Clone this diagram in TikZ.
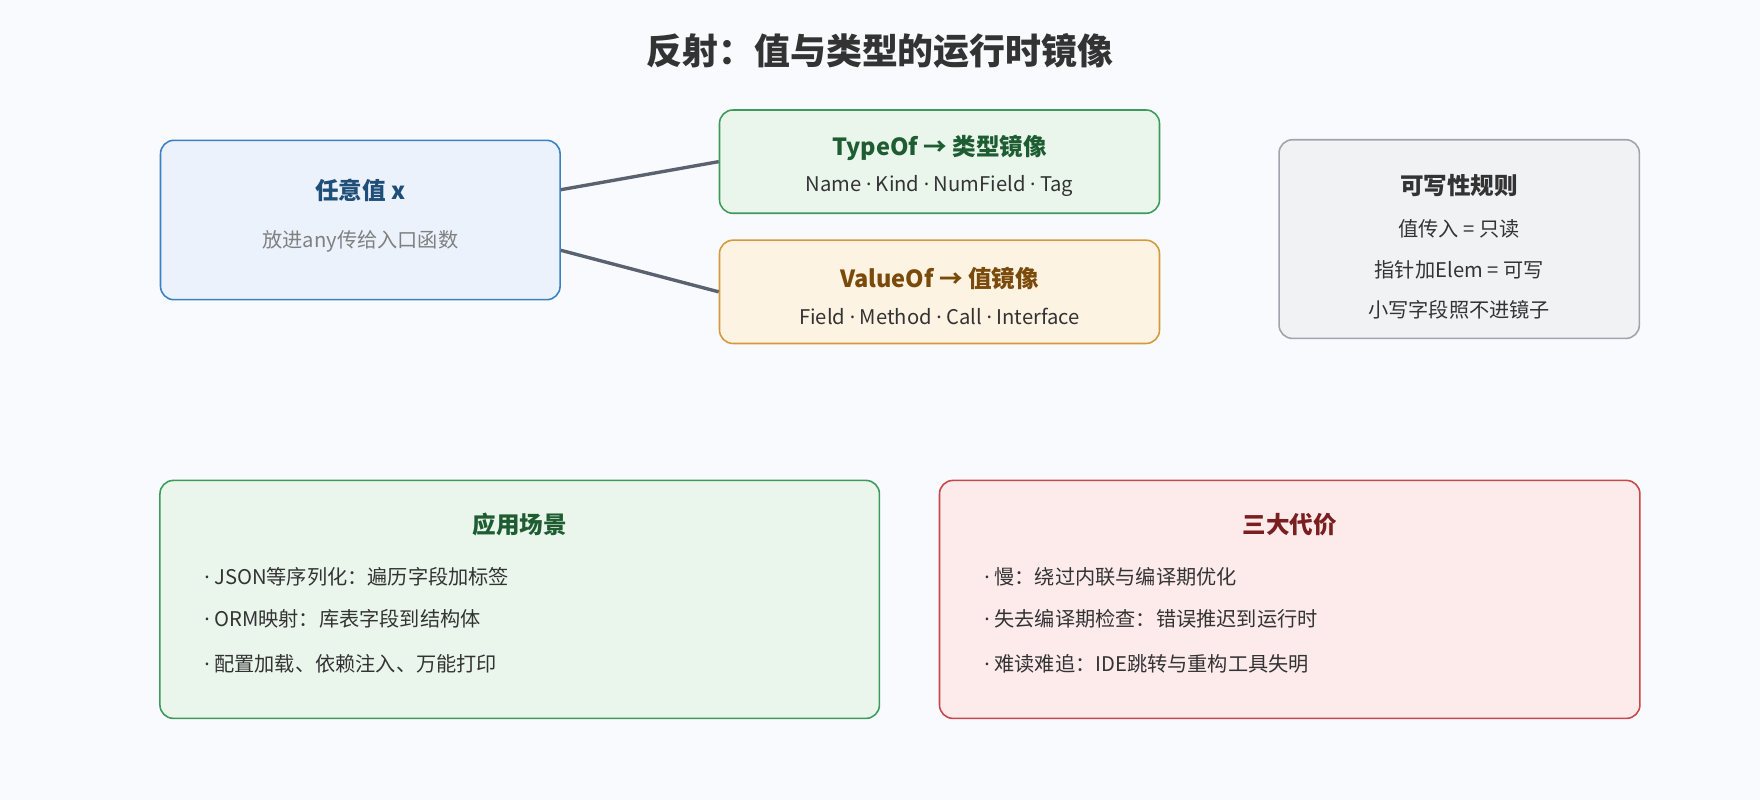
\documentclass[tikz,border=0pt]{standalone}
\usepackage{fontspec}
\setmainfont{Noto Sans CJK SC}
\newfontfamily\latinfont{Noto Sans}
\newcommand{\dt}{{\latinfont ·}}
\usetikzlibrary{positioning}
\definecolor{bg}{HTML}{F8FAFD}
\definecolor{blueF}{HTML}{EBF2FB}\definecolor{blueD}{HTML}{3B7FC4}\definecolor{blueT}{HTML}{1F4E79}
\definecolor{greenF}{HTML}{EAF6EC}\definecolor{greenD}{HTML}{3C9A5A}\definecolor{greenT}{HTML}{1E5C32}
\definecolor{orangeF}{HTML}{FDF3E3}\definecolor{orangeD}{HTML}{D39A3C}\definecolor{orangeT}{HTML}{7A4A0A}
\definecolor{grayF}{HTML}{F1F2F4}\definecolor{grayD}{HTML}{A0A4AC}
\definecolor{redF}{HTML}{FDEBEC}\definecolor{redD}{HTML}{C8474A}\definecolor{redT}{HTML}{7A1F1F}
\definecolor{txt}{HTML}{333333}\definecolor{link}{HTML}{5A6270}
\begin{document}
\begin{tikzpicture}[x=0.5pt,y=-0.5pt]
			\tikzstyle{Box}		= [rectangle, rounded corners=6pt, line width=0.7pt, inner sep=0pt]
			\tikzstyle{Head}	= [font=\bfseries\fontsize{10.5}{12}\selectfont]
			\tikzstyle{Line}	= [font=\fontsize{9}{11}\selectfont, text=txt]
			\tikzstyle{Item}	= [Line, anchor=west]
			\tikzstyle{Link}	= [draw=link, line width=1.5pt]

			\fill [bg] (0,0) rectangle (1568,713);
			\node (title) at (784, 45) [font=\bfseries\fontsize{16}{19}\selectfont, text=txt] {反射：值与类型的运行时镜像};

			\node (x) at (321, 196) [Box, fill=blueF, draw=blueD, minimum width=178pt, minimum height=71pt] {};
			\node (xh) at (321, 170) [Head, text=blueT] {任意值 x};
			\node (xs) at (321, 215) [Line, text=gray] {放进any传给入口函数};

			\node (t) at (837, 144) [Box, fill=greenF, draw=greenD, minimum width=196pt, minimum height=46pt] {};
			\node (th) at (837, 132) [Head, text=greenT] {TypeOf → 类型镜像};
			\node (ts) at (837, 166) [Line] {Name \dt{} Kind \dt{} NumField \dt{} Tag};

			\node (v) at (837, 260) [Box, fill=orangeF, draw=orangeD, minimum width=196pt, minimum height=46pt] {};
			\node (vh) at (837, 248) [Head, text=orangeT] {ValueOf → 值镜像};
			\node (vs) at (837, 282) [Line] {Field \dt{} Method \dt{} Call \dt{} Interface};

			\node (r) at (1300, 213) [Box, fill=grayF, draw=grayD, minimum width=160.5pt, minimum height=88.5pt] {};
			\node (rh) at (1300, 165) [Head, text=txt] {可写性规则};
			\node (r1) at (1300, 204) [Line] {值传入 = 只读};
			\node (r2) at (1300, 240) [Line] {指针加Elem = 可写};
			\node (r3) at (1300, 276) [Line] {小写字段照不进镜子};

			\node (app) at (463, 534) [Box, fill=greenF, draw=greenD, minimum width=320.5pt, minimum height=106pt] {};
			\node (apph) at (463, 467) [Head, text=greenT] {应用场景};
			\node (app1) at (175, 514) [Item] {\dt{} JSON等序列化：遍历字段加标签};
			\node (app2) at (175, 551) [Item] {\dt{} ORM映射：库表字段到结构体};
			\node (app3) at (175, 591) [Item] {\dt{} 配置加载、依赖注入、万能打印};

			\node (cost) at (1149, 534) [Box, fill=redF, draw=redD, minimum width=312pt, minimum height=106pt] {};
			\node (costh) at (1149, 467) [Head, text=redT] {三大代价};
			\node (cost1) at (870, 514) [Item] {\dt{} 慢：绕过内联与编译期优化};
			\node (cost2) at (870, 551) [Item] {\dt{} 失去编译期检查：错误推迟到运行时};
			\node (cost3) at (870, 591) [Item] {\dt{} 难读难追：IDE跳转与重构工具失明};

			\draw [Link] ([yshift=13.5pt]x.east) to (t.west);
			\draw [Link] ([yshift=-13.5pt]x.east) to (v.west);
\end{tikzpicture}
\end{document}
